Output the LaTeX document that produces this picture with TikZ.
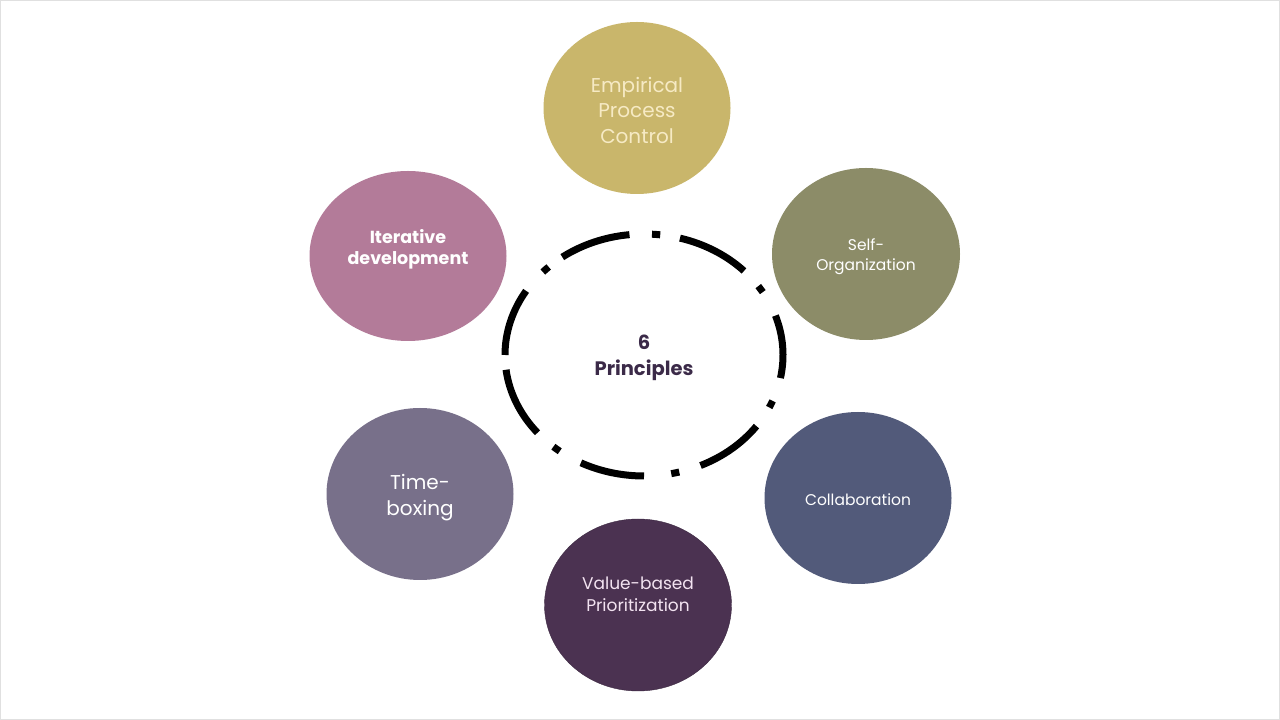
\documentclass[tikz,border=0pt]{standalone}
\usepackage{fontspec}
\setmainfont{Poppins}
\usetikzlibrary{shapes.geometric}
\definecolor{empc}{HTML}{C9B66B}
\definecolor{selfc}{HTML}{8C8C68}
\definecolor{collc}{HTML}{525A7A}
\definecolor{valc}{HTML}{4B3251}
\definecolor{timec}{HTML}{78708A}
\definecolor{iterc}{HTML}{B37B99}
\definecolor{ctrtext}{HTML}{3B2A48}
\definecolor{creamtext}{HTML}{F6EAC4}
\definecolor{pinktext}{HTML}{F3E3F1}
\newcommand\ringarc[2]{\draw[ring] (ctr) ++(#1:139pt and 121pt) arc[start angle=#1,end angle=#2,x radius=139pt,y radius=121pt];}
\begin{document}
\begin{tikzpicture}[x=1pt,y=1pt,
  bubble/.style={ellipse, inner sep=0pt, minimum width=187pt, minimum height=172pt},
  btext/.style={align=center, text=white, inner sep=0pt},
  ring/.style={line width=7pt, black}]
\useasboundingbox (0,0) rectangle (1280,720);
\fill[white] (0,0) rectangle (1280,720);
\draw[black!12, line width=1pt] (0.5,0.5) rectangle (1279.5,719.5);

\coordinate (ctr) at (644,365);

\node[bubble, fill=empc] (emp) at (637,612) {};
\node[btext, text=creamtext, font=\fontsize{20}{25.5}\selectfont, yshift=-2pt] (empt) at (emp) {Empirical\\Process\\Control};
\node[bubble, fill=selfc, minimum width=188pt] (self) at (866,466) {};
\node[btext, font=\fontsize{15.5}{20}\selectfont, yshift=-3pt] (selft) at (self) {Self-\\Organization};
\node[bubble, fill=collc] (coll) at (858,222) {};
\node[btext, font=\fontsize{15.5}{20}\selectfont, yshift=-2pt] (collt) at (coll) {Collaboration};
\node[bubble, fill=valc, draw=valc!80!black] (val) at (638,115) {};
\node[btext, text=pinktext, font=\fontsize{17}{22}\selectfont, yshift=11pt] (valt) at (val) {Value-based\\Prioritization};
\node[bubble, fill=timec] (time) at (420,226) {};
\node[btext, font=\fontsize{20}{26}\selectfont, yshift=-4pt] (timet) at (time) {Time-\\boxing};
\node[bubble, fill=iterc, minimum width=197pt, minimum height=170pt] (iter) at (408,464) {};
\node[btext, font=\bfseries\fontsize{17.5}{21}\selectfont, yshift=7pt] (itert) at (iter) {Iterative\\development};

\node[align=center, inner sep=0pt, text=ctrtext, font=\bfseries\fontsize{19.5}{26}\selectfont, yshift=-3pt] (title) at (ctr) {6\\Principles};

\ringarc{-11}{19}
\ringarc{44}{75}
\ringarc{96}{126}
\ringarc{148}{180}
\ringarc{187}{220}
\ringarc{243}{270}
\ringarc{294}{324}
\ringarc{31.3}{34.7}
\ringarc{83.3}{86.7}
\ringarc{133.3}{136.7}
\ringarc{229.3}{232.7}
\ringarc{281.3}{284.7}
\ringarc{334.3}{337.7}
\end{tikzpicture}
\end{document}
